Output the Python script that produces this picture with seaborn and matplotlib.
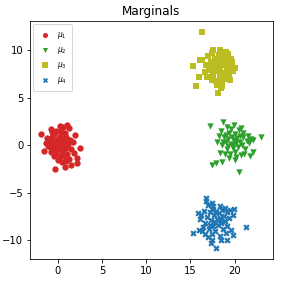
import matplotlib
matplotlib.use("Agg")
import matplotlib.pyplot as plt
import seaborn as sns

# cluster points
mu1_x = [-1.9, -0.8, 0.2, 1.0, 1.3, 1.9, 2.5, 2.15, 2.2, 1.45, 0.8, -0.3, 0.5, -1.5,
         -1.2, -1.0, -0.9, -0.7, -0.6, -0.5, -0.4, -0.3, -0.2, -0.1, 0.0, 0.1, 0.2, 0.3,
         0.4, 0.5, 0.6, 0.7, 0.8, 0.9, 1.0, 1.1, 1.2, 1.4, -0.8, -1.1, -0.2, 0.4, 0.9,
         1.5, 0.3, -0.4, 0.0, 0.7, 1.3, -0.6, 0.1, -0.3, 0.6, -0.9, 1.7, 1.8, -1.3, 0.2,
         -0.1, 0.5, 0.9, -0.7, 0.6]
mu1_y = [1.2, 1.7, 2.05, 2.15, 1.8, 1.1, -0.25, -1.35, -1.85, -2.05, -2.3, -2.45, -1.8, -0.55,
         0.8, 0.3, -0.2, 0.9, 0.4, -0.3, 1.2, 0.1, -0.8, 0.6, 0.0, -0.4, 1.0, 0.3,
         -0.1, 0.7, -0.6, 0.2, 1.3, -0.3, 0.5, -0.9, 0.1, 0.6, -0.7, -0.1, 1.5, 1.5, 0.9,
         -0.4, -1.2, -1.1, -1.5, -1.1, -1.4, 0.0, 0.8, -0.5, 0.1, 0.6, 0.3, -0.8, 0.2, -0.2,
         0.3, -0.9, -1.7, 1.4, 1.9]

mu2_x = [17.2, 18.7, 19.9, 20.75, 23.0, 22.1, 22.1, 21.7, 20.5, 18.6, 17.9, 17.4, 18.0, 18.3, 20.0,
         18.5, 18.8, 19.0, 19.1, 19.2, 19.3, 19.4, 19.5, 19.6, 19.7, 19.8, 19.9, 20.0, 20.1,
         20.2, 20.3, 20.4, 20.5, 20.6, 20.7, 20.8, 21.0, 21.2, 21.4, 21.6, 21.9, 18.9, 18.6,
         19.4, 20.9, 19.0, 19.6, 20.2, 21.1, 18.2, 19.8, 20.0, 20.6, 19.3, 21.5, 18.7]
mu2_y = [2.0, 2.5, 2.1, 1.8, 0.85, 0.6, -0.75, -1.1, -2.8, -1.75, -1.9, -2.05, 0.4, -0.8, -1.5,
         1.5, 0.9, 0.3, 1.9, -0.4, 0.7, 1.3, -0.9, 0.1, 0.9, -0.3, 0.5, 1.2, -0.7,
         0.2, 0.8, -0.2, 1.6, 0.4, -1.0, 0.0, 0.9, -0.4, 0.5, 0.2, 0.7, -0.9, 0.0,
         -1.3, 1.3, 1.1, 1.7, -1.2, -0.9, 1.0, 0.0, 0.6, 1.0, -0.1, 1.0, 0.4]

mu3_x = [16.3, 15.6, 16.0, 15.3, 16.3, 17.6, 18.3, 19.3, 20.0, 19.5, 18.5, 18.1, 16.9, 16.1,
         16.8, 17.0, 17.2, 17.3, 17.5, 17.6, 17.7, 17.8, 17.9, 18.0, 18.1, 18.2, 18.3, 18.4,
         18.5, 18.6, 18.7, 18.8, 18.9, 19.0, 19.1, 19.2, 19.4, 19.5, 19.6, 19.8, 17.4, 16.6,
         18.4, 19.0, 17.1, 18.6, 18.9, 19.7, 17.9, 18.3, 18.0, 17.5]
mu3_y = [11.95, 6.25, 7.15, 8.3, 9.0, 10.0, 9.85, 9.6, 8.1, 6.9, 6.0, 5.5, 7.2, 8.95,
         8.5, 9.4, 7.9, 8.8, 9.7, 7.4, 8.3, 9.1, 6.8, 7.8, 8.7, 9.5, 7.2, 8.1,
         9.0, 6.6, 7.6, 8.5, 9.3, 7.0, 8.0, 8.9, 7.5, 8.4, 9.1, 7.8, 6.9, 7.7,
         10.0, 9.8, 8.2, 6.2, 7.3, 8.8, 8.0, 8.4, 6.3, 8.6]

mu4_x = [16.75, 15.25, 15.9, 16.0, 17.3, 17.9, 21.3, 19.85, 19.2, 18.5, 19.5, 18.3, 17.6, 16.1,
         16.5, 16.7, 16.9, 17.0, 17.1, 17.2, 17.3, 17.4, 17.5, 17.6, 17.7, 17.8, 17.9, 18.0,
         18.1, 18.2, 18.3, 18.4, 18.5, 18.6, 18.7, 18.8, 18.9, 19.0, 19.1, 19.2, 19.4, 19.6,
         19.8, 16.4, 16.3, 16.6, 17.0, 17.5, 16.8, 17.4, 18.9, 19.9, 17.8, 18.3, 17.2, 16.2]
mu4_y = [-5.5, -9.2, -7.15, -8.9, -10.3, -10.8, -8.6, -9.4, -9.95, -9.95, -6.8, -6.4, -6.4, -7.8,
         -6.9, -8.2, -7.5, -6.3, -8.8, -7.0, -7.9, -9.3, -6.7, -8.5, -7.3, -9.0, -6.9, -7.8,
         -8.4, -7.1, -9.5, -7.6, -8.2, -6.8, -8.8, -7.4, -8.0, -9.2, -7.0, -8.5, -7.6, -8.9,
         -7.3, -8.6, -9.0, -9.3, -9.6, -10.0, -5.9, -6.1, -6.6, -6.7, -8.1, -7.9, -8.4, -7.3]

labels = [r"$\mu_1$", r"$\mu_2$", r"$\mu_3$", r"$\mu_4$"]
colors = ["#d62728", "#2ca02c", "#bcbd22", "#1f77b4"]
markers = ["o", "v", "s", "X"]

fig, ax = plt.subplots(figsize=(281 / 72, 281 / 72), dpi=72)
fig.subplots_adjust(left=0.108, right=0.970, top=0.924, bottom=0.077)

series = [(mu1_x, mu1_y), (mu2_x, mu2_y), (mu3_x, mu3_y), (mu4_x, mu4_y)]
for (xs, ys), lab, col, mk in zip(series, labels, colors, markers):
    sns.scatterplot(x=xs, y=ys, color=col, marker=mk, s=40, linewidth=0,
                    label=lab, ax=ax)

ax.set_xlim(-3.1, 24.3)
ax.set_ylim(-12, 13.05)
ax.set_xticks([0, 5, 10, 15, 20])
ax.set_yticks([-10, -5, 0, 5, 10])
ax.set_title("Marginals")
ax.legend(loc="upper left", fontsize=7.5, handlelength=1.6, borderpad=0.7,
          labelspacing=0.55, markerscale=0.8, borderaxespad=0.4)

plt.savefig("out.png", dpi=72)
